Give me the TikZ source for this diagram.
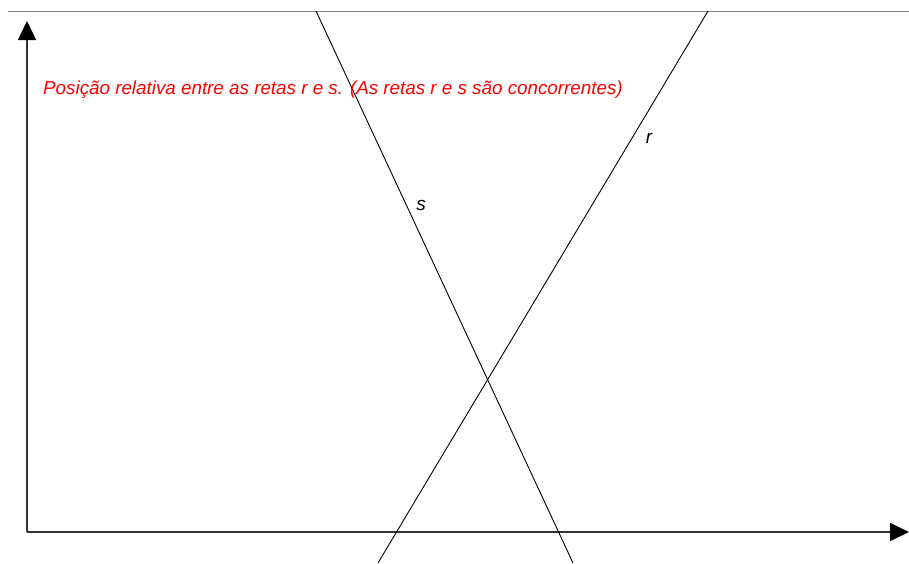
\documentclass[tikz,border=0pt]{standalone}
\usepackage{fontspec}
\setmainfont{Liberation Sans}
\usetikzlibrary{arrows.meta}
\begin{document}
\begin{tikzpicture}[x=1pt,y=-1pt,
  axis/.style={line width=1.4pt,draw=black!80,-{Triangle[length=19pt,width=18pt,color=black]}},
  reta/.style={line width=0.9pt,draw=black},
  rotulo/.style={font=\itshape\fontsize{19}{22}\selectfont,inner sep=0pt},
  titulo/.style={font=\itshape\fontsize{18.8}{22}\selectfont,text=red,inner sep=0pt,anchor=west}]
\useasboundingbox (0,0) rectangle (909,563);
\fill[white] (0,0) rectangle (909,563);
% top border line
\coordinate (tl) at (8,11);
\coordinate (tr) at (909,11);
\draw[line width=1pt,black!50] (tl) -- (tr);
% axes
\coordinate (O) at (27,532);
\coordinate (Yt) at (27,21);
\coordinate (Xt) at (909,532);
\draw[axis] (O) -- (Yt);
\draw[axis] (O) -- (Xt);
% lines
\coordinate (sT) at (316,11);
\coordinate (sB) at (573,563);
\coordinate (rT) at (708,11);
\coordinate (rB) at (378,563);
\draw[reta] (sT) -- (sB);
\draw[reta] (rT) -- (rB);
\node[rotulo] (ls) at (421,205) {s};
\node[rotulo] (lr) at (649,138) {r};
\node[titulo] (t) at (43,90) {Posição relativa entre as retas r e s. (As retas r e s são concorrentes)};
\end{tikzpicture}
\end{document}
